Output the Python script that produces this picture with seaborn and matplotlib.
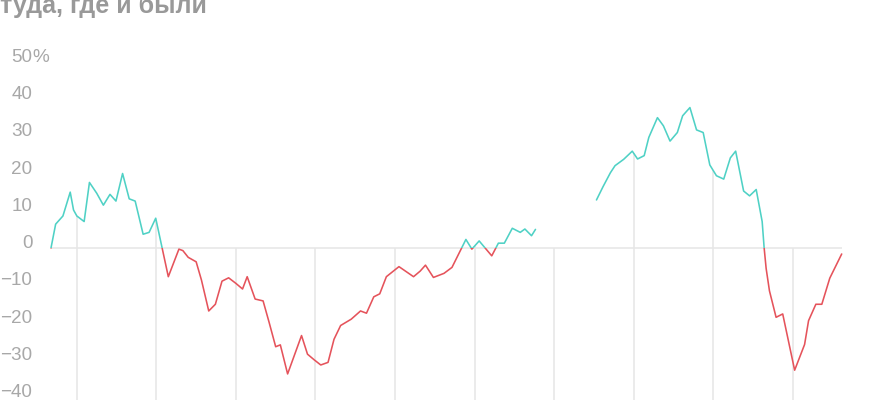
import numpy as np
import pandas as pd
import matplotlib
matplotlib.use('Agg')
import matplotlib.pyplot as plt
from matplotlib.patches import Rectangle
import seaborn as sns

# Data: months counted from the first year gridline, value in %
months_a = [-3.9, -3.2, -2.1, -1.0, -0.5, 0.0, 1.1, 1.9, 3.0, 4.0, 5.0, 5.9, 6.9, 7.9, 8.8,
            10.0, 10.9, 11.9, 13.8, 15.4, 16.0, 16.8, 18.0, 18.8, 19.9, 20.9, 21.9, 22.9,
            24.0, 25.0, 25.7, 26.9, 28.1, 29.0, 30.0, 30.7, 31.8, 33.9, 34.8, 35.8, 36.8,
            37.9, 38.8, 39.8, 41.4, 42.8, 43.7, 44.8, 45.7, 46.7, 48.6, 50.8, 51.8, 52.6,
            53.8, 55.4, 56.6, 58.7, 59.6, 60.7, 62.6, 63.6, 64.5, 65.7, 66.9, 67.6, 68.6, 69.2]
values_a = [0.0, 6.4, 8.6, 15.0, 10.2, 8.6, 7.1, 17.6, 14.7, 11.5, 14.4, 12.6, 20.0, 13.2, 12.6,
            3.7, 4.2, 8.0, -7.7, -0.3, -0.7, -2.5, -3.7, -8.6, -16.9, -15.1, -8.9, -8.0,
            -9.5, -11.0, -7.7, -13.7, -14.2, -19.9, -26.5, -26.0, -33.8, -23.5, -28.5, -30.0, -31.4,
            -30.7, -24.5, -20.8, -19.1, -16.9, -17.5, -13.1, -12.3, -7.7, -5.0, -7.7, -6.2, -4.6,
            -7.9, -6.8, -5.2, 2.3, -0.3, 1.9, -2.1, 1.3, 1.3, 5.3, 4.2, 5.1, 3.3, 5.0]

months_b = [78.4, 79.4, 80.5, 81.2, 82.5, 83.8, 84.6, 85.6, 86.3, 87.6, 88.5, 89.5, 90.6, 91.4,
            92.5, 93.5, 94.5, 95.5, 96.5, 97.6, 98.6, 99.4, 100.6, 101.5, 102.5, 103.4, 103.7,
            104.0, 104.5, 105.5, 106.5, 108.3, 109.8, 110.4, 111.5, 112.4, 113.6, 115.4]
values_b = [12.9, 16.5, 20.2, 22.1, 23.8, 26.0, 23.9, 24.8, 29.7, 35.0, 32.8, 28.7, 31.0, 35.5,
            37.7, 31.7, 31.0, 22.3, 19.4, 18.5, 24.2, 26.0, 15.3, 14.0, 15.7, 7.1, 0.0,
            -5.5, -11.5, -18.6, -17.7, -32.8, -25.9, -19.5, -15.1, -15.1, -8.1, -1.6]

year_lines = [0, 12, 24, 36, 48, 60, 72, 84, 96, 108]
y_ticks = [-40, -30, -20, -10, 0, 10, 20, 30, 40, 50]
title = 'туда, где и были'

teal = '#4fd1c5'
red = '#e5535b'
grid = '#e6e6e6'
label_gray = '#a8a8a8'

df = pd.concat([
    pd.DataFrame({'month': months_a, 'value': values_a, 'seg': 'a'}),
    pd.DataFrame({'month': months_b, 'value': values_b, 'seg': 'b'}),
], ignore_index=True)

sns.set_theme(style='white')
plt.rcParams['font.family'] = ['Liberation Sans', 'DejaVu Sans']

fig = plt.figure(figsize=(8.7, 4), dpi=100)
ax = fig.add_axes([51 / 870, 0, 790.7 / 870, 345.7 / 400])

xmin, xmax = min(months_a), max(months_b)
ymin, ymax = -40.8, 52
ax.set_xlim(xmin, xmax)
ax.set_ylim(ymin, ymax)

# gridlines: zero line and year lines from bottom up to the curve
ax.hlines(0, xmin, xmax, color=grid, lw=1.1, zorder=1)


def curve_top(x):
    for ms, vs in ((months_a, values_a), (months_b, values_b)):
        if ms[0] <= x <= ms[-1]:
            return max(np.interp(x, ms, vs), 0)
    return 0


ax.vlines(year_lines, ymin, [curve_top(x) for x in year_lines], color=grid, lw=1.1, zorder=1)

# same line twice: teal clipped above zero, red clipped below
for color, y0 in ((teal, 0), (red, -200)):
    n = len(ax.lines)
    sns.lineplot(data=df, x='month', y='value', units='seg', estimator=None,
                 color=color, lw=1.15, ax=ax, zorder=3, legend=False)
    clip = Rectangle((xmin - 5, y0), xmax - xmin + 10, 200, transform=ax.transData)
    for ln in ax.lines[n:]:
        ln.set_clip_path(clip)

for s in ax.spines.values():
    s.set_visible(False)
ax.set_xticks([])
ax.set_xlabel('')
ax.set_ylabel('')
ax.set_yticks(y_ticks)
ax.set_yticklabels([str(t).replace('-', '\u2212') for t in y_ticks])
ax.tick_params(axis='y', length=0, pad=13.4, labelsize=13.6, labelcolor=label_gray)
for lab in ax.get_yticklabels():
    lab.set_va('baseline')
ax.text(-18.6 / 790.7, 50, '%', transform=ax.get_yaxis_transform(), ha='left', va='baseline',
        fontsize=13.6, color=label_gray, clip_on=False)

# title is cut at the top edge, as in the source
fig.text(0, 1 - 13 / 400, title, ha='left', va='baseline', fontsize=18,
         fontweight='bold', color='#999999')

fig.savefig('out.png', dpi=100)
